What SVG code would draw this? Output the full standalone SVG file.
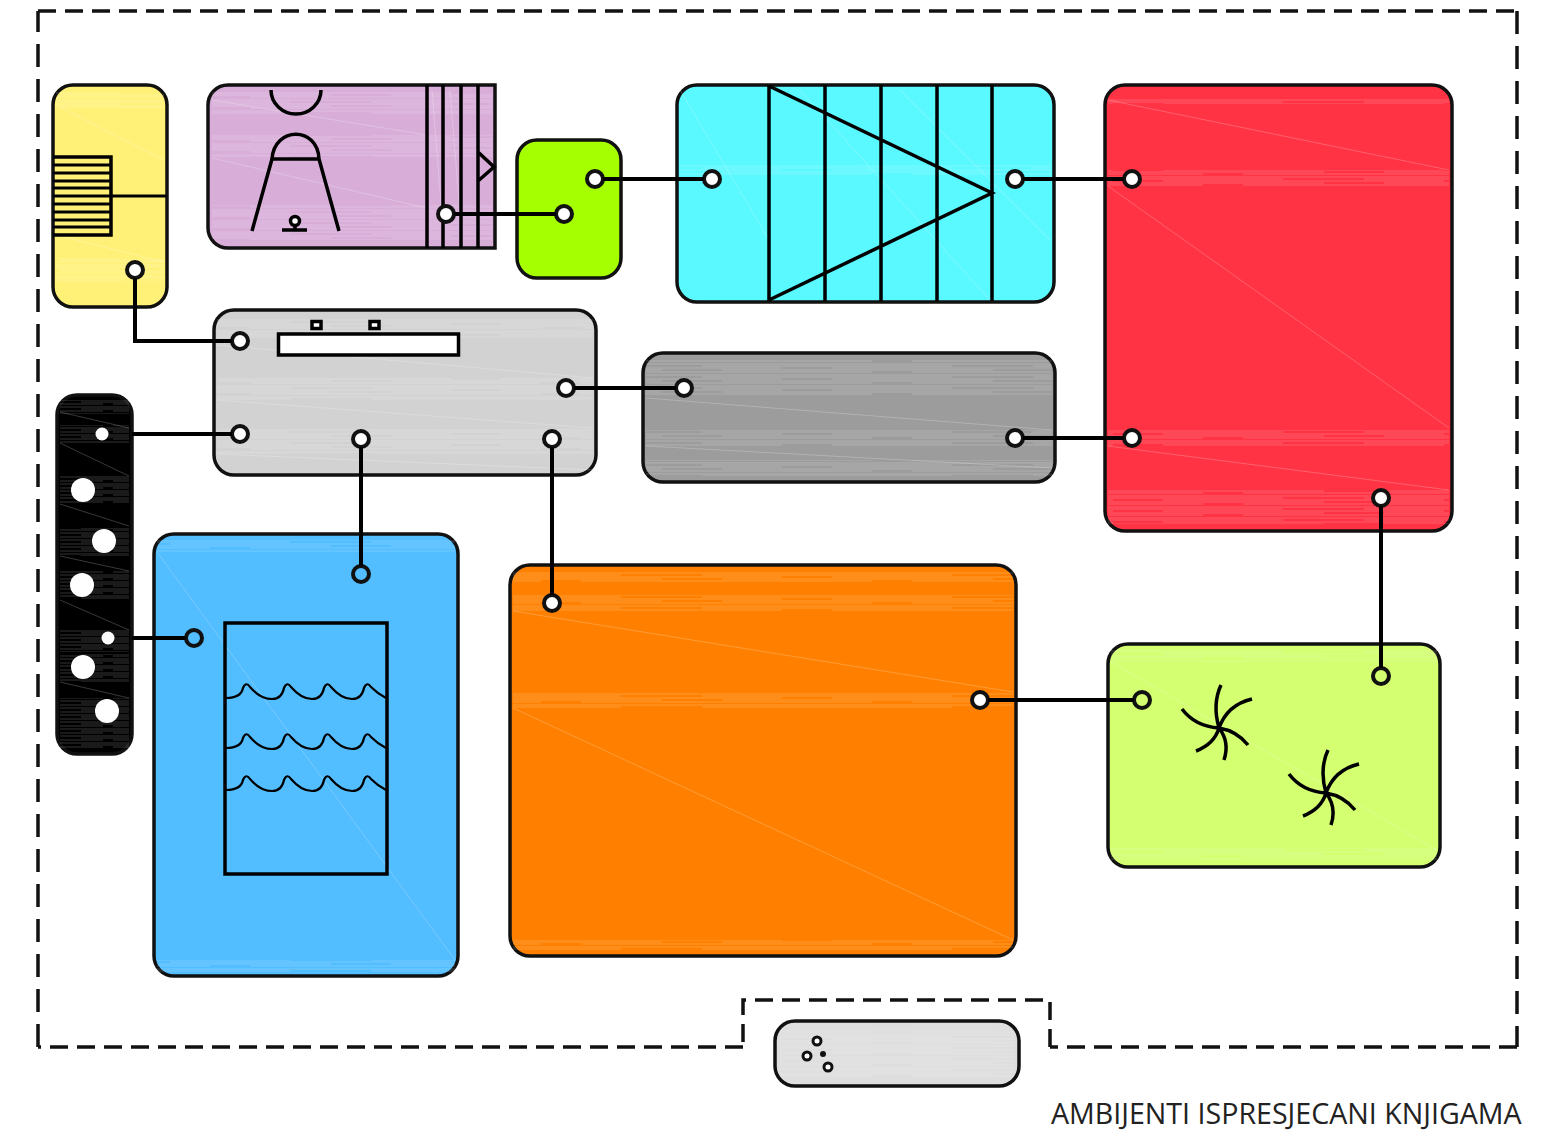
<svg xmlns="http://www.w3.org/2000/svg" width="1566" height="1146" viewBox="0 0 1566 1146">
<style>
.box{stroke:#111;stroke-width:3.5}
.ln{fill:none;stroke:#000;stroke-width:3.5}
.thin{fill:none;stroke:#000;stroke-width:2.2}
.con{fill:none;stroke:#000;stroke-width:4}
.port{stroke:#111;stroke-width:4;fill:#fff}
.hole{fill:#fff}
.diag{stroke:#fff;stroke-opacity:.22;stroke-width:1;fill:none}
.band{fill:url(#hatch)}
.bandK{fill:url(#hatchK)}
.frame{fill:none;stroke:#111;stroke-width:3.5}
.title{font-family:"Open Sans","Liberation Sans",sans-serif;font-size:28.6px;fill:#222}
</style>
<defs>
<pattern id="hatch" width="331" height="11" patternUnits="userSpaceOnUse">
<path d="M0 1H331M40 3H290M0 5H120M170 5H331M60 7H331M0 9H210M250 9H331" stroke="#fff" stroke-opacity=".2" stroke-width="1"/>
</pattern>
<pattern id="hatchK" width="73" height="7" patternUnits="userSpaceOnUse">
<path d="M0 1H73M8 3H60M0 5H30M40 5H73" stroke="#fff" stroke-opacity=".2" stroke-width="1"/>
</pattern>
<g id="star" class="ln">
<path d="M1221 685C1214 700 1215 714 1219 728M1252 699C1235 703 1224 714 1219 728M1248 745C1240 735 1231 730 1219 728M1224 760C1228 748 1226 737 1219 728M1196 751C1209 746 1216 738 1219 728M1182 709C1191 721 1204 727 1219 728"/>
</g>
<path id="wave" class="thin" d="M226 698C238 698 242 693 243 688Q246 681 250 687C256 694 263 699 272 699C280 699 283 693 284 688Q287 681 291 687C297 694 303 699 312 699C320 699 323 693 324 688Q327 681 331 687C337 694 344 699 352 699C360 699 363 693 364 688Q367 681 371 687C375 691 380 695 386 698"/>
</defs>

<g id="frame">
<path class="frame" stroke-dasharray="18 9" d="M38 11H1517"/>
<path class="frame" stroke-dasharray="23 12" d="M1517 11V1047"/>
<path class="frame" stroke-dasharray="18 9" d="M1517 1047H1050"/>
<path class="frame" stroke-dasharray="18 9" d="M1050 1047V1000H743V1047"/>
<path class="frame" stroke-dasharray="18 9" d="M743 1047H38"/>
<path class="frame" stroke-dasharray="23 12" d="M38 1047V11"/>
</g>

<g id="node-yellow">
<rect class="box" x="53" y="85" width="114" height="222" rx="20" fill="#FFF178"/>
<rect class="band" x="56" y="92" width="108" height="16"/>
<rect class="band" x="56" y="258" width="108" height="24"/>
<path class="diag" d="M56 105L164 160M56 235L164 262"/>
<path class="ln" d="M53 157H111V235H53"/>
<path class="thin" style="stroke-width:3" d="M53 165H111M53 173H111M53 181H111M53 188H111M53 196H166M53 204H111M53 212H111M53 220H111M53 227H111"/>
<circle class="port" cx="135" cy="270" r="8"/>
</g>

<g id="node-purple">
<path class="box" d="M228 85H495V248H228A20 20 0 0 1 208 228V105A20 20 0 0 1 228 85Z" fill="#D8AED8"/>
<rect class="band" x="212" y="92" width="280" height="22"/>
<rect class="band" x="212" y="135" width="280" height="22"/>
<rect class="band" x="212" y="205" width="280" height="35"/>
<path class="diag" d="M212 100L427 135M212 158L427 208M432 90L444 240M450 90L462 240"/>
<path class="ln" d="M427 85V248M443 85V248M461 85V248M478 85V248M478 152L494 167L478 181"/>
<path class="ln" d="M271 90A25 24 0 0 0 321 90M272 159H319M272 159C274 126 318 126 319 159M272 159L252 231M319 159L339 231M282 230H307M295 226V230"/>
<circle class="ln" cx="295" cy="221" r="4.500" style="fill:#fff"/>
<circle class="port" cx="446" cy="214" r="8"/>
</g>

<g id="node-green">
<rect class="box" x="517" y="140" width="104" height="138" rx="20" fill="#A6FF00"/>
<circle class="port" cx="595" cy="179" r="8"/>
<circle class="port" cx="564" cy="214" r="8"/>
</g>

<g id="node-cyan">
<rect class="box" x="677" y="85" width="377" height="217" rx="20" fill="#5AF8FF"/>
<rect class="band" x="680" y="165" width="371" height="10"/>
<path class="diag" d="M680 90L769 240M800 90L990 300M900 90L1050 240"/>
<path class="ln" d="M769 85V301M825 85V301M881 85V301M937 85V301M992 85V301M769 86L992 193L769 300"/>
<circle class="port" cx="712" cy="179" r="8"/>
<circle class="port" cx="1015" cy="179" r="8"/>
</g>

<g id="node-red">
<rect class="box" x="1105" y="85" width="347" height="446" rx="20" fill="#FF3344"/>
<rect class="band" x="1108" y="98" width="341" height="6"/>
<rect class="band" x="1108" y="170" width="341" height="16"/>
<rect class="band" x="1108" y="430" width="341" height="16"/>
<rect class="band" x="1108" y="490" width="341" height="34"/>
<path class="diag" d="M1108 100L1449 170M1108 186L1449 428M1108 446L1449 490"/>
<circle class="port" cx="1132" cy="179" r="8"/>
<circle class="port" cx="1132" cy="438" r="8"/>
<circle class="port" cx="1381" cy="498" r="8"/>
</g>

<g id="node-grey">
<rect class="box" x="214" y="310" width="382" height="165" rx="20" fill="#D2D2D2"/>
<rect class="band" x="217" y="318" width="376" height="20"/>
<rect class="band" x="217" y="378" width="376" height="22"/>
<rect class="band" x="217" y="428" width="376" height="26"/>
<path class="diag" d="M217 345L593 378M217 400L593 428M217 454L593 470"/>
<rect class="ln" x="278.500" y="334" width="180" height="21" style="fill:#fff"/>
<rect class="ln" x="312" y="321.500" width="9" height="7" style="fill:#fff"/>
<rect class="ln" x="370" y="321.500" width="9" height="7" style="fill:#fff"/>
<circle class="port" cx="240" cy="341" r="8"/>
<circle class="port" cx="240" cy="434" r="8"/>
<circle class="port" cx="566" cy="388" r="8"/>
<circle class="port" cx="361" cy="439" r="8"/>
<circle class="port" cx="552" cy="439" r="8"/>
</g>

<g id="node-darkgrey">
<rect class="box" x="643" y="353" width="412" height="129" rx="20" fill="#9C9C9C"/>
<rect class="band" x="646" y="360" width="406" height="36"/>
<rect class="band" x="646" y="430" width="406" height="16"/>
<rect class="band" x="646" y="460" width="406" height="16"/>
<path class="diag" d="M646 398L1052 430M646 446L1052 468"/>
<circle class="port" cx="684" cy="388" r="8"/>
<circle class="port" cx="1015" cy="438" r="8"/>
</g>

<g id="node-black">
<rect class="box" x="57" y="395" width="75" height="359" rx="20" fill="#000"/>
<rect class="bandK" x="60" y="400" width="69" height="14"/>
<rect class="bandK" x="60" y="425" width="69" height="18"/>
<rect class="bandK" x="60" y="476" width="69" height="28"/>
<rect class="bandK" x="60" y="528" width="69" height="28"/>
<rect class="bandK" x="60" y="571" width="69" height="28"/>
<rect class="bandK" x="60" y="630" width="69" height="22"/>
<rect class="bandK" x="60" y="654" width="69" height="28"/>
<rect class="bandK" x="60" y="698" width="69" height="50"/>
<path class="diag" d="M60 412L129 428M60 443L129 476M60 504L129 526M60 556L129 571M60 600L129 630M60 682L129 698"/>
<circle class="hole" cx="102" cy="434" r="6.500"/>
<circle class="hole" cx="83" cy="490" r="12"/>
<circle class="hole" cx="104" cy="541" r="12"/>
<circle class="hole" cx="82" cy="585" r="12"/>
<circle class="hole" cx="108" cy="638" r="6.500"/>
<circle class="hole" cx="83" cy="667" r="12"/>
<circle class="hole" cx="107" cy="711" r="12"/>
</g>

<g id="node-blue">
<rect class="box" x="154" y="534" width="304" height="442" rx="20" fill="#52BDFF"/>
<rect class="band" x="157" y="540" width="298" height="12"/>
<rect class="band" x="157" y="960" width="298" height="12"/>
<path class="diag" d="M157 552L455 960"/>
<rect class="ln" x="225" y="623" width="162" height="251"/>
<g id="waves">
<use href="#wave"/>
<use href="#wave" y="50"/>
<use href="#wave" y="92"/>
</g>
<circle class="port" cx="361" cy="574" r="8" style="fill:#52BDFF"/>
<circle class="port" cx="194" cy="638" r="8" style="fill:#52BDFF"/>
</g>

<g id="node-orange">
<rect class="box" x="510" y="565" width="506" height="391" rx="20" fill="#FF8000"/>
<rect class="band" x="513" y="572" width="500" height="10"/>
<rect class="band" x="513" y="595" width="500" height="16"/>
<rect class="band" x="513" y="692" width="500" height="16"/>
<rect class="band" x="513" y="940" width="500" height="10"/>
<path class="diag" d="M513 611L1013 692M513 708L1013 940"/>
<circle class="port" cx="552" cy="603" r="8"/>
<circle class="port" cx="980" cy="700" r="8"/>
</g>

<g id="node-lime">
<rect class="box" x="1108" y="644" width="332" height="223" rx="20" fill="#D3FF70"/>
<rect class="band" x="1111" y="650" width="326" height="12"/>
<rect class="band" x="1111" y="848" width="326" height="12"/>
<path class="diag" d="M1111 662L1437 850"/>
<use href="#star"/>
<use href="#star" x="107" y="65"/>
<circle class="port" cx="1142" cy="700" r="8" style="fill:#D3FF70"/>
<circle class="port" cx="1381" cy="676" r="8" style="fill:#D3FF70"/>
</g>

<g id="node-bottom">
<rect class="box" x="775" y="1021" width="244" height="65" rx="20" fill="#DEDEDE"/>
<rect class="band" x="780" y="1030" width="234" height="48"/>
<circle cx="817" cy="1041" r="4" fill="#fff" stroke="#111" stroke-width="3"/>
<circle cx="807" cy="1056" r="4" fill="#fff" stroke="#111" stroke-width="3"/>
<circle cx="828" cy="1067" r="4" fill="#fff" stroke="#111" stroke-width="3"/>
<circle cx="823" cy="1054" r="3" fill="#111"/>
</g>

<g id="connectors">
<path class="con" d="M135 278V341H232"/>
<path class="con" d="M132 434H232"/>
<path class="con" d="M574 388H676"/>
<path class="con" d="M361 447V566"/>
<path class="con" d="M552 447V595"/>
<path class="con" d="M132 638H186"/>
<path class="con" d="M454 214H556"/>
<path class="con" d="M603 179H704"/>
<path class="con" d="M1023 179H1124"/>
<path class="con" d="M1023 438H1124"/>
<path class="con" d="M988 700H1134"/>
<path class="con" d="M1381 506V668"/>
</g>

<text class="title" x="1051" y="1124">AMBIJENTI ISPRESJECANI KNJIGAMA</text>
</svg>
